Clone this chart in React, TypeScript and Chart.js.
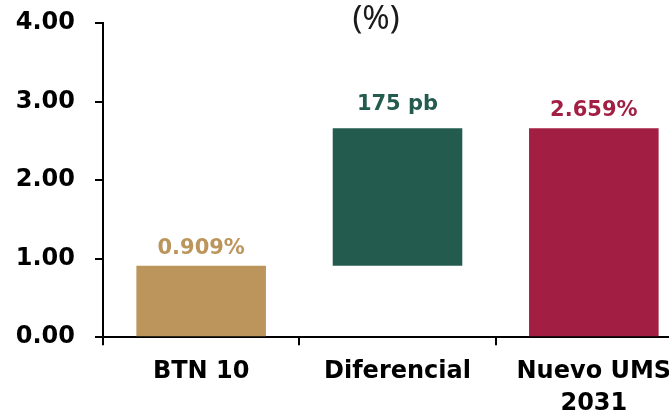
import { useEffect, useRef } from "react";
import { Chart, registerables } from "chart.js";

Chart.register(...registerables);

// Categories on the x axis (multi-line label for the new bond)
const categories: (string | string[])[] = ["BTN 10", "Diferencial", ["Nuevo UMS", "2031"]];

// Waterfall: each bar spans from its floor to its ceiling (in %)
const floorValues = [0, 0.909, 0];
const ceilValues = [0.909, 2.659, 2.659];

// Text written above each bar
const valueLabels = ["0.909%", "175 pb", "2.659%"];

// Bar colours
const barColors = ["#BC955C", "#245B4F", "#A21F43"];

// Y axis tick values
const yTickValues = [0, 1, 2, 3, 4];

const CANVAS_W = 752;
const CANVAS_H = 431;
const LABEL_FONT = '"DejaVu Sans", sans-serif';

// Draws the unit title centred across the canvas
const unitTitlePlugin = {
  id: "unitTitle",
  afterDraw(chart: Chart) {
    const { ctx, width } = chart;
    ctx.save();
    ctx.fillStyle = "#1a1a1a";
    ctx.font = '33px "Noto Sans", sans-serif';
    ctx.textAlign = "center";
    ctx.textBaseline = "alphabetic";
    ctx.fillText("(%)", width / 2, 29);
    ctx.restore();
  },
};

// Draws the coloured value text above each bar
const labelLift = [17.5, 24, 18];
const valueLabelPlugin = {
  id: "valueLabels",
  afterDatasetsDraw(chart: Chart) {
    const { ctx } = chart;
    const meta = chart.getDatasetMeta(0);
    ctx.save();
    ctx.font = `bold 21px ${LABEL_FONT}`;
    ctx.textAlign = "center";
    ctx.textBaseline = "middle";
    meta.data.forEach((bar: any, i: number) => {
      ctx.fillStyle = barColors[i];
      ctx.fillText(valueLabels[i], bar.x, bar.y - labelLift[i]);
    });
    ctx.restore();
  },
};

export default function App() {
  const canvasRef = useRef<HTMLCanvasElement>(null);

  useEffect(() => {
    const canvas = canvasRef.current;
    if (!canvas) return;
    const chart = new Chart(canvas, {
      type: "bar",
      data: {
        labels: categories,
        datasets: [
          {
            data: categories.map((_, i) => [floorValues[i], ceilValues[i]]) as any,
            backgroundColor: barColors,
            borderWidth: 0,
            barPercentage: 0.66,
            categoryPercentage: 1,
          },
        ],
      },
      options: {
        responsive: false,
        animation: false,
        devicePixelRatio: 1,
        layout: { padding: { left: 16, right: 60, top: 23, bottom: 0 } },
        plugins: {
          legend: { display: false },
          tooltip: { enabled: false },
          title: { display: false },
        },
        scales: {
          x: {
            grid: {
              drawOnChartArea: false,
              drawTicks: true,
              tickLength: 8,
              color: "#000",
              lineWidth: 2,
              offset: true,
            },
            border: { color: "#000", width: 2 },
            ticks: {
              color: "#000",
              padding: 11,
              font: { family: LABEL_FONT, size: 24, weight: "bold", lineHeight: 1.33 },
            },
          },
          y: {
            min: 0,
            max: 4,
            afterBuildTicks: (axis: any) => {
              axis.ticks = yTickValues.map((v) => ({ value: v }));
            },
            afterFit: (axis: any) => {
              // tick padding only spaces labels from the ticks horizontally
              axis.width = 87;
              axis.paddingTop = 14;
              axis.paddingBottom = 14;
            },
            grid: {
              drawOnChartArea: false,
              drawTicks: true,
              tickLength: 8,
              color: "#000",
              lineWidth: 2,
            },
            border: { color: "#000", width: 2 },
            ticks: {
              color: "#000",
              padding: 20,
              callback: (v: any) => Number(v).toFixed(2),
              font: { family: LABEL_FONT, size: 24, weight: "bold", lineHeight: 1.2 },
            },
          },
        },
      },
      plugins: [unitTitlePlugin, valueLabelPlugin],
    });
    return () => chart.destroy();
  }, []);

  return (
    <div
      style={{
        position: "fixed",
        left: 0,
        top: 0,
        width: 669,
        height: 413,
        overflow: "hidden",
        background: "#ffffff",
      }}
    >
      <canvas
        ref={canvasRef}
        width={CANVAS_W}
        height={CANVAS_H}
        style={{ display: "block", width: CANVAS_W, height: CANVAS_H }}
      />
    </div>
  );
}
